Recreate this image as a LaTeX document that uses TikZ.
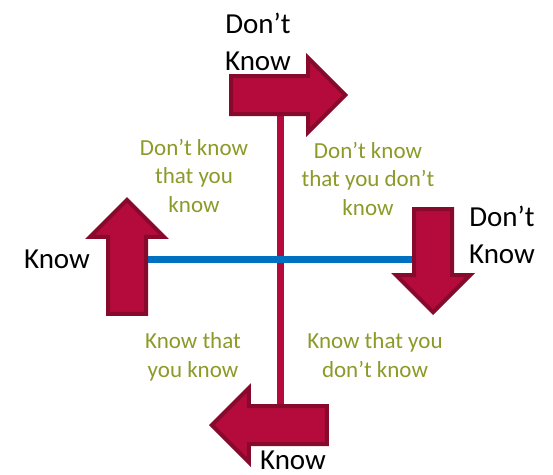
\documentclass[tikz,border=0pt]{standalone}
\usepackage{fontspec}
\setmainfont{Carlito}
\usetikzlibrary{shapes.arrows}

\definecolor{crimson}{RGB}{180,10,60}
\definecolor{crimsonedge}{RGB}{135,10,45}
\definecolor{axisblue}{RGB}{0,112,192}
\definecolor{olive}{RGB}{140,154,40}

\tikzset{
  bigarrow/.style={single arrow, draw=crimsonedge, fill=crimson, line width=4pt,
    inner xsep=0pt, inner ysep=17pt, single arrow head extend=18pt,
    single arrow tip angle=90, anchor=tip},
  axislabel/.style={font=\fontsize{29}{37}\selectfont, align=center, inner sep=0pt, anchor=base},
  quadlabel/.style={text=olive, font=\fontsize{23}{28.5}\selectfont, align=center, inner sep=0pt, anchor=base}
}

\begin{document}
\begin{tikzpicture}[x=1pt,y=-1pt]
  \useasboundingbox (0,0) rectangle (553,474);
  % the two axes, drawn first so the arrows cover their ends
  \coordinate (vtop) at (280,100);
  \coordinate (vbot) at (280,415);
  \coordinate (hleft) at (140,259);
  \coordinate (hright) at (420,259);
  \draw[crimson, line width=7pt] (vtop) -- (vbot);
  \draw[axisblue, line width=7pt] (hleft) -- (hright);
  % block arrows at the ends
  \node[bigarrow, minimum height=114pt] (toparrow) at (348,95) {};
  \node[bigarrow, minimum height=114pt, rotate=90] (leftarrow) at (127,197) {};
  \node[bigarrow, minimum height=103pt, rotate=-90] (rightarrow) at (433,315) {};
  \node[bigarrow, minimum height=115pt, rotate=180] (botarrow) at (209,425) {};
  % axis labels (base is the last line)
  \node[axislabel] (topknow) at (258,70) {Don’t\\Know};
  \node[axislabel] (leftknow) at (57,268) {Know};
  \node[axislabel] (rightknow) at (502,263) {Don’t\\Know};
  \node[axislabel] (botknow) at (293,469.5) {Know};
  % quadrants
  \node[quadlabel] (dkk) at (194,212) {Don’t know\\that you\\know};
  \node[quadlabel] (dkdk) at (368,215) {Don’t know\\that you don’t\\know};
  \node[quadlabel] (kk) at (193,377) {Know that\\you know};
  \node[quadlabel] (kdk) at (375,377) {Know that you\\don’t know};
\end{tikzpicture}
\end{document}
